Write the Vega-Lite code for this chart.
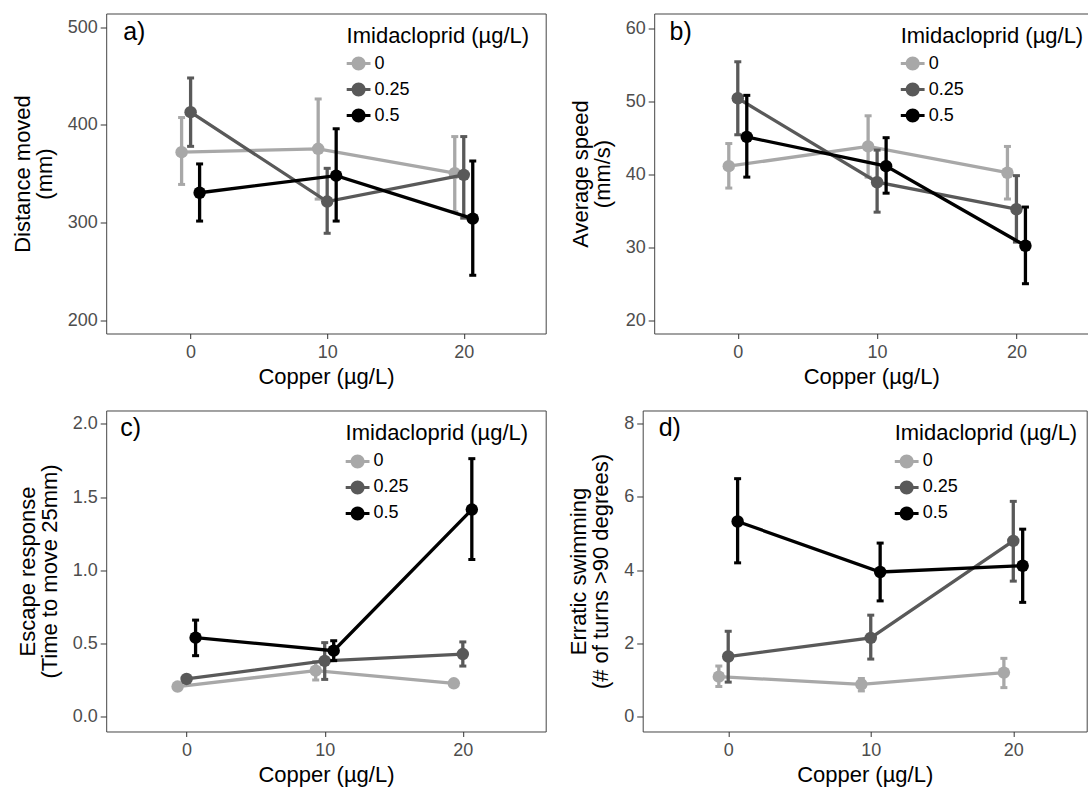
{
  "$schema": "https://vega.github.io/schema/vega-lite/v6.json",
  "padding": {"left": 10.2, "top": 12.5, "right": 0, "bottom": 0},
  "background": "white",
  "data": {"values": [
    {"panel": "a", "copper": 0, "imid": "0", "mean": 372, "lo": 339, "hi": 407.5},
    {"panel": "a", "copper": 10, "imid": "0", "mean": 375.5, "lo": 324, "hi": 426.5},
    {"panel": "a", "copper": 20, "imid": "0", "mean": 350.5, "lo": 311, "hi": 388},
    {"panel": "a", "copper": 0, "imid": "0.25", "mean": 413, "lo": 378, "hi": 448},
    {"panel": "a", "copper": 10, "imid": "0.25", "mean": 321.5, "lo": 289, "hi": 355.5},
    {"panel": "a", "copper": 20, "imid": "0.25", "mean": 348.8, "lo": 304.5, "hi": 388},
    {"panel": "a", "copper": 0, "imid": "0.5", "mean": 330.5, "lo": 301.5, "hi": 360},
    {"panel": "a", "copper": 10, "imid": "0.5", "mean": 348, "lo": 301.5, "hi": 396},
    {"panel": "a", "copper": 20, "imid": "0.5", "mean": 304, "lo": 246, "hi": 363},
    {"panel": "b", "copper": 0, "imid": "0", "mean": 41.1, "lo": 38.1, "hi": 44.2},
    {"panel": "b", "copper": 10, "imid": "0", "mean": 43.8, "lo": 39.6, "hi": 48.0},
    {"panel": "b", "copper": 20, "imid": "0", "mean": 40.2, "lo": 36.6, "hi": 43.8},
    {"panel": "b", "copper": 0, "imid": "0.25", "mean": 50.4, "lo": 45.4, "hi": 55.4},
    {"panel": "b", "copper": 10, "imid": "0.25", "mean": 38.9, "lo": 34.8, "hi": 43.3},
    {"panel": "b", "copper": 20, "imid": "0.25", "mean": 35.2, "lo": 30.7, "hi": 39.8},
    {"panel": "b", "copper": 0, "imid": "0.5", "mean": 45.1, "lo": 39.6, "hi": 50.8},
    {"panel": "b", "copper": 10, "imid": "0.5", "mean": 41.1, "lo": 37.4, "hi": 45.0},
    {"panel": "b", "copper": 20, "imid": "0.5", "mean": 30.2, "lo": 25.0, "hi": 35.5},
    {"panel": "c", "copper": 0, "imid": "0", "mean": 0.205, "lo": 0.185, "hi": 0.225},
    {"panel": "c", "copper": 10, "imid": "0", "mean": 0.314, "lo": 0.25, "hi": 0.375},
    {"panel": "c", "copper": 20, "imid": "0", "mean": 0.227, "lo": 0.21, "hi": 0.245},
    {"panel": "c", "copper": 0, "imid": "0.25", "mean": 0.257, "lo": 0.235, "hi": 0.28},
    {"panel": "c", "copper": 10, "imid": "0.25", "mean": 0.38, "lo": 0.254, "hi": 0.505},
    {"panel": "c", "copper": 20, "imid": "0.25", "mean": 0.427, "lo": 0.345, "hi": 0.51},
    {"panel": "c", "copper": 0, "imid": "0.5", "mean": 0.539, "lo": 0.416, "hi": 0.659},
    {"panel": "c", "copper": 10, "imid": "0.5", "mean": 0.45, "lo": 0.382, "hi": 0.518},
    {"panel": "c", "copper": 20, "imid": "0.5", "mean": 1.414, "lo": 1.073, "hi": 1.762},
    {"panel": "d", "copper": 0, "imid": "0", "mean": 1.09, "lo": 0.82, "hi": 1.38},
    {"panel": "d", "copper": 10, "imid": "0", "mean": 0.88, "lo": 0.70, "hi": 1.04},
    {"panel": "d", "copper": 20, "imid": "0", "mean": 1.2, "lo": 0.79, "hi": 1.59},
    {"panel": "d", "copper": 0, "imid": "0.25", "mean": 1.64, "lo": 0.94, "hi": 2.33},
    {"panel": "d", "copper": 10, "imid": "0.25", "mean": 2.15, "lo": 1.57, "hi": 2.77},
    {"panel": "d", "copper": 20, "imid": "0.25", "mean": 4.8, "lo": 3.70, "hi": 5.88},
    {"panel": "d", "copper": 0, "imid": "0.5", "mean": 5.33, "lo": 4.2, "hi": 6.5},
    {"panel": "d", "copper": 10, "imid": "0.5", "mean": 3.95, "lo": 3.16, "hi": 4.74},
    {"panel": "d", "copper": 20, "imid": "0.5", "mean": 4.12, "lo": 3.12, "hi": 5.12}
  ]},
  "align": "none",
  "spacing": 21,
  "resolve": {"legend": {"color": "independent"}},
  "vconcat": [
    {
      "spacing": 22,
      "resolve": {"legend": {"color": "independent"}},
      "hconcat": [
        {
          "width": 439.5, "height": 320,
          "title": {"text": "a)", "dx": 17},
          "transform": [{"filter": "datum.panel === 'a'"}],
          "encoding": {
            "x": {"field": "copper", "type": "quantitative", "scale": {"domain": [-6.18, 26], "nice": false, "zero": false}, "axis": {"values": [0, 10, 20], "title": "Copper (µg/L)"}},
            "color": {"field": "imid", "type": "nominal", "scale": {"domain": ["0", "0.25", "0.5"], "range": ["#A8A8A8", "#595959", "#000000"]},
              "legend": {"orient": "none", "legendX": 240.4, "legendY": 12, "title": "Imidacloprid (µg/L)", "symbolSize": 196, "symbolType": "M-1.7,-0.2H1.7V0.2H-1.7Z M1,0A1,1,0,1,1,-1,0A1,1,0,1,1,1,0Z",
                "encode": {"symbols": {"update": {"fill": {"scale": "color", "field": "value"}, "stroke": {"value": "transparent"}, "opacity": {"value": 1}}}}}}
          },
          "layer": [
            {"transform": [{"filter": "datum.imid === '0'"}], "layer": [
              {"mark": {"type": "rule", "strokeWidth": 3.3, "xOffset": -9}, "encoding": {"y": {"field": "lo", "type": "quantitative", "scale": {"domain": [186.4, 514], "nice": false, "zero": false}, "axis": {"values": [200, 300, 400, 500], "title": ["Distance moved", "(mm)"]}}, "y2": {"field": "hi"}}},
              {"mark": {"type": "tick", "orient": "horizontal", "size": 7, "thickness": 3, "opacity": 1, "xOffset": -9}, "encoding": {"y": {"field": "lo", "type": "quantitative"}}},
              {"mark": {"type": "tick", "orient": "horizontal", "size": 7, "thickness": 3, "opacity": 1, "xOffset": -9}, "encoding": {"y": {"field": "hi", "type": "quantitative"}}},
              {"mark": {"type": "line", "strokeWidth": 3.3, "xOffset": -9}, "encoding": {"y": {"field": "mean", "type": "quantitative"}}},
              {"mark": {"type": "point", "filled": true, "size": 155, "opacity": 1, "xOffset": -9}, "encoding": {"y": {"field": "mean", "type": "quantitative"}}}
            ]},
            {"transform": [{"filter": "datum.imid === '0.25'"}], "layer": [
              {"mark": {"type": "rule", "strokeWidth": 3.3}, "encoding": {"y": {"field": "lo", "type": "quantitative"}, "y2": {"field": "hi"}}},
              {"mark": {"type": "tick", "orient": "horizontal", "size": 7, "thickness": 3, "opacity": 1}, "encoding": {"y": {"field": "lo", "type": "quantitative"}}},
              {"mark": {"type": "tick", "orient": "horizontal", "size": 7, "thickness": 3, "opacity": 1}, "encoding": {"y": {"field": "hi", "type": "quantitative"}}},
              {"mark": {"type": "line", "strokeWidth": 3.3}, "encoding": {"y": {"field": "mean", "type": "quantitative"}}},
              {"mark": {"type": "point", "filled": true, "size": 155, "opacity": 1}, "encoding": {"y": {"field": "mean", "type": "quantitative"}}}
            ]},
            {"transform": [{"filter": "datum.imid === '0.5'"}], "layer": [
              {"mark": {"type": "rule", "strokeWidth": 3.3, "xOffset": 9}, "encoding": {"y": {"field": "lo", "type": "quantitative"}, "y2": {"field": "hi"}}},
              {"mark": {"type": "tick", "orient": "horizontal", "size": 7, "thickness": 3, "opacity": 1, "xOffset": 9}, "encoding": {"y": {"field": "lo", "type": "quantitative"}}},
              {"mark": {"type": "tick", "orient": "horizontal", "size": 7, "thickness": 3, "opacity": 1, "xOffset": 9}, "encoding": {"y": {"field": "hi", "type": "quantitative"}}},
              {"mark": {"type": "line", "strokeWidth": 3.3, "xOffset": 9}, "encoding": {"y": {"field": "mean", "type": "quantitative"}}},
              {"mark": {"type": "point", "filled": true, "size": 155, "opacity": 1, "xOffset": 9}, "encoding": {"y": {"field": "mean", "type": "quantitative"}}}
            ]}
          ]
        },
        {
          "width": 434, "height": 320,
          "title": {"text": "b)", "dx": 15.4},
          "transform": [{"filter": "datum.panel === 'b'"}],
          "encoding": {
            "x": {"field": "copper", "type": "quantitative", "scale": {"domain": [-6, 25.15], "nice": false, "zero": false}, "axis": {"values": [0, 10, 20], "title": "Copper (µg/L)"}},
            "color": {"field": "imid", "type": "nominal", "scale": {"domain": ["0", "0.25", "0.5"], "range": ["#A8A8A8", "#595959", "#000000"]},
              "legend": {"orient": "none", "legendX": 246.5, "legendY": 12, "title": "Imidacloprid (µg/L)", "symbolSize": 196, "symbolType": "M-1.7,-0.2H1.7V0.2H-1.7Z M1,0A1,1,0,1,1,-1,0A1,1,0,1,1,1,0Z",
                "encode": {"symbols": {"update": {"fill": {"scale": "color", "field": "value"}, "stroke": {"value": "transparent"}, "opacity": {"value": 1}}}}}}
          },
          "layer": [
            {"transform": [{"filter": "datum.imid === '0'"}], "layer": [
              {"mark": {"type": "rule", "strokeWidth": 3.3, "xOffset": -9}, "encoding": {"y": {"field": "lo", "type": "quantitative", "scale": {"domain": [18.18, 62.01], "nice": false, "zero": false}, "axis": {"values": [20, 30, 40, 50, 60], "title": ["Average speed", "(mm/s)"]}}, "y2": {"field": "hi"}}},
              {"mark": {"type": "tick", "orient": "horizontal", "size": 7, "thickness": 3, "opacity": 1, "xOffset": -9}, "encoding": {"y": {"field": "lo", "type": "quantitative"}}},
              {"mark": {"type": "tick", "orient": "horizontal", "size": 7, "thickness": 3, "opacity": 1, "xOffset": -9}, "encoding": {"y": {"field": "hi", "type": "quantitative"}}},
              {"mark": {"type": "line", "strokeWidth": 3.3, "xOffset": -9}, "encoding": {"y": {"field": "mean", "type": "quantitative"}}},
              {"mark": {"type": "point", "filled": true, "size": 155, "opacity": 1, "xOffset": -9}, "encoding": {"y": {"field": "mean", "type": "quantitative"}}}
            ]},
            {"transform": [{"filter": "datum.imid === '0.25'"}], "layer": [
              {"mark": {"type": "rule", "strokeWidth": 3.3}, "encoding": {"y": {"field": "lo", "type": "quantitative"}, "y2": {"field": "hi"}}},
              {"mark": {"type": "tick", "orient": "horizontal", "size": 7, "thickness": 3, "opacity": 1}, "encoding": {"y": {"field": "lo", "type": "quantitative"}}},
              {"mark": {"type": "tick", "orient": "horizontal", "size": 7, "thickness": 3, "opacity": 1}, "encoding": {"y": {"field": "hi", "type": "quantitative"}}},
              {"mark": {"type": "line", "strokeWidth": 3.3}, "encoding": {"y": {"field": "mean", "type": "quantitative"}}},
              {"mark": {"type": "point", "filled": true, "size": 155, "opacity": 1}, "encoding": {"y": {"field": "mean", "type": "quantitative"}}}
            ]},
            {"transform": [{"filter": "datum.imid === '0.5'"}], "layer": [
              {"mark": {"type": "rule", "strokeWidth": 3.3, "xOffset": 9}, "encoding": {"y": {"field": "lo", "type": "quantitative"}, "y2": {"field": "hi"}}},
              {"mark": {"type": "tick", "orient": "horizontal", "size": 7, "thickness": 3, "opacity": 1, "xOffset": 9}, "encoding": {"y": {"field": "lo", "type": "quantitative"}}},
              {"mark": {"type": "tick", "orient": "horizontal", "size": 7, "thickness": 3, "opacity": 1, "xOffset": 9}, "encoding": {"y": {"field": "hi", "type": "quantitative"}}},
              {"mark": {"type": "line", "strokeWidth": 3.3, "xOffset": 9}, "encoding": {"y": {"field": "mean", "type": "quantitative"}}},
              {"mark": {"type": "point", "filled": true, "size": 155, "opacity": 1, "xOffset": 9}, "encoding": {"y": {"field": "mean", "type": "quantitative"}}}
            ]}
          ]
        }
      ]
    },
    {
      "spacing": 20.5,
      "resolve": {"legend": {"color": "independent"}},
      "hconcat": [
        {
          "width": 439.5, "height": 321,
          "title": {"text": "c)", "dx": 14},
          "transform": [{"filter": "datum.panel === 'c'"}],
          "encoding": {
            "x": {"field": "copper", "type": "quantitative", "scale": {"domain": [-5.82, 26], "nice": false, "zero": false}, "axis": {"values": [0, 10, 20], "title": "Copper (µg/L)"}},
            "color": {"field": "imid", "type": "nominal", "scale": {"domain": ["0", "0.25", "0.5"], "range": ["#A8A8A8", "#595959", "#000000"]},
              "legend": {"orient": "none", "legendX": 239.4, "legendY": 13, "title": "Imidacloprid (µg/L)", "symbolSize": 196, "symbolType": "M-1.7,-0.2H1.7V0.2H-1.7Z M1,0A1,1,0,1,1,-1,0A1,1,0,1,1,1,0Z",
                "encode": {"symbols": {"update": {"fill": {"scale": "color", "field": "value"}, "stroke": {"value": "transparent"}, "opacity": {"value": 1}}}}}}
          },
          "layer": [
            {"transform": [{"filter": "datum.imid === '0'"}], "layer": [
              {"mark": {"type": "rule", "strokeWidth": 3.3, "xOffset": -9}, "encoding": {"y": {"field": "lo", "type": "quantitative", "scale": {"domain": [-0.102, 2.091], "nice": false, "zero": false}, "axis": {"values": [0, 0.5, 1, 1.5, 2], "format": ".1f", "title": ["Escape response", "(Time to move 25mm)"]}}, "y2": {"field": "hi"}}},
              {"mark": {"type": "tick", "orient": "horizontal", "size": 7, "thickness": 3, "opacity": 1, "xOffset": -9}, "encoding": {"y": {"field": "lo", "type": "quantitative"}}},
              {"mark": {"type": "tick", "orient": "horizontal", "size": 7, "thickness": 3, "opacity": 1, "xOffset": -9}, "encoding": {"y": {"field": "hi", "type": "quantitative"}}},
              {"mark": {"type": "line", "strokeWidth": 3.3, "xOffset": -9}, "encoding": {"y": {"field": "mean", "type": "quantitative"}}},
              {"mark": {"type": "point", "filled": true, "size": 155, "opacity": 1, "xOffset": -9}, "encoding": {"y": {"field": "mean", "type": "quantitative"}}}
            ]},
            {"transform": [{"filter": "datum.imid === '0.25'"}], "layer": [
              {"mark": {"type": "rule", "strokeWidth": 3.3}, "encoding": {"y": {"field": "lo", "type": "quantitative"}, "y2": {"field": "hi"}}},
              {"mark": {"type": "tick", "orient": "horizontal", "size": 7, "thickness": 3, "opacity": 1}, "encoding": {"y": {"field": "lo", "type": "quantitative"}}},
              {"mark": {"type": "tick", "orient": "horizontal", "size": 7, "thickness": 3, "opacity": 1}, "encoding": {"y": {"field": "hi", "type": "quantitative"}}},
              {"mark": {"type": "line", "strokeWidth": 3.3}, "encoding": {"y": {"field": "mean", "type": "quantitative"}}},
              {"mark": {"type": "point", "filled": true, "size": 155, "opacity": 1}, "encoding": {"y": {"field": "mean", "type": "quantitative"}}}
            ]},
            {"transform": [{"filter": "datum.imid === '0.5'"}], "layer": [
              {"mark": {"type": "rule", "strokeWidth": 3.3, "xOffset": 9}, "encoding": {"y": {"field": "lo", "type": "quantitative"}, "y2": {"field": "hi"}}},
              {"mark": {"type": "tick", "orient": "horizontal", "size": 7, "thickness": 3, "opacity": 1, "xOffset": 9}, "encoding": {"y": {"field": "lo", "type": "quantitative"}}},
              {"mark": {"type": "tick", "orient": "horizontal", "size": 7, "thickness": 3, "opacity": 1, "xOffset": 9}, "encoding": {"y": {"field": "hi", "type": "quantitative"}}},
              {"mark": {"type": "line", "strokeWidth": 3.3, "xOffset": 9}, "encoding": {"y": {"field": "mean", "type": "quantitative"}}},
              {"mark": {"type": "point", "filled": true, "size": 155, "opacity": 1, "xOffset": 9}, "encoding": {"y": {"field": "mean", "type": "quantitative"}}}
            ]}
          ]
        },
        {
          "width": 444, "height": 321,
          "title": {"text": "d)", "dx": 16},
          "transform": [{"filter": "datum.panel === 'd'"}],
          "encoding": {
            "x": {"field": "copper", "type": "quantitative", "scale": {"domain": [-6, 25.15], "nice": false, "zero": false}, "axis": {"values": [0, 10, 20], "title": "Copper (µg/L)"}},
            "color": {"field": "imid", "type": "nominal", "scale": {"domain": ["0", "0.25", "0.5"], "range": ["#A8A8A8", "#595959", "#000000"]},
              "legend": {"orient": "none", "legendX": 252, "legendY": 13, "title": "Imidacloprid (µg/L)", "symbolSize": 196, "symbolType": "M-1.7,-0.2H1.7V0.2H-1.7Z M1,0A1,1,0,1,1,-1,0A1,1,0,1,1,1,0Z",
                "encode": {"symbols": {"update": {"fill": {"scale": "color", "field": "value"}, "stroke": {"value": "transparent"}, "opacity": {"value": 1}}}}}}
          },
          "layer": [
            {"transform": [{"filter": "datum.imid === '0'"}], "layer": [
              {"mark": {"type": "rule", "strokeWidth": 3.3, "xOffset": -9.4}, "encoding": {"y": {"field": "lo", "type": "quantitative", "scale": {"domain": [-0.409, 8.363], "nice": false, "zero": false}, "axis": {"values": [0, 2, 4, 6, 8], "title": ["Erratic swimming", "(# of turns >90 degrees)"]}}, "y2": {"field": "hi"}}},
              {"mark": {"type": "tick", "orient": "horizontal", "size": 7, "thickness": 3, "opacity": 1, "xOffset": -9.4}, "encoding": {"y": {"field": "lo", "type": "quantitative"}}},
              {"mark": {"type": "tick", "orient": "horizontal", "size": 7, "thickness": 3, "opacity": 1, "xOffset": -9.4}, "encoding": {"y": {"field": "hi", "type": "quantitative"}}},
              {"mark": {"type": "line", "strokeWidth": 3.3, "xOffset": -9.4}, "encoding": {"y": {"field": "mean", "type": "quantitative"}}},
              {"mark": {"type": "point", "filled": true, "size": 155, "opacity": 1, "xOffset": -9.4}, "encoding": {"y": {"field": "mean", "type": "quantitative"}}}
            ]},
            {"transform": [{"filter": "datum.imid === '0.25'"}], "layer": [
              {"mark": {"type": "rule", "strokeWidth": 3.3}, "encoding": {"y": {"field": "lo", "type": "quantitative"}, "y2": {"field": "hi"}}},
              {"mark": {"type": "tick", "orient": "horizontal", "size": 7, "thickness": 3, "opacity": 1}, "encoding": {"y": {"field": "lo", "type": "quantitative"}}},
              {"mark": {"type": "tick", "orient": "horizontal", "size": 7, "thickness": 3, "opacity": 1}, "encoding": {"y": {"field": "hi", "type": "quantitative"}}},
              {"mark": {"type": "line", "strokeWidth": 3.3}, "encoding": {"y": {"field": "mean", "type": "quantitative"}}},
              {"mark": {"type": "point", "filled": true, "size": 155, "opacity": 1}, "encoding": {"y": {"field": "mean", "type": "quantitative"}}}
            ]},
            {"transform": [{"filter": "datum.imid === '0.5'"}], "layer": [
              {"mark": {"type": "rule", "strokeWidth": 3.3, "xOffset": 9.4}, "encoding": {"y": {"field": "lo", "type": "quantitative"}, "y2": {"field": "hi"}}},
              {"mark": {"type": "tick", "orient": "horizontal", "size": 7, "thickness": 3, "opacity": 1, "xOffset": 9.4}, "encoding": {"y": {"field": "lo", "type": "quantitative"}}},
              {"mark": {"type": "tick", "orient": "horizontal", "size": 7, "thickness": 3, "opacity": 1, "xOffset": 9.4}, "encoding": {"y": {"field": "hi", "type": "quantitative"}}},
              {"mark": {"type": "line", "strokeWidth": 3.3, "xOffset": 9.4}, "encoding": {"y": {"field": "mean", "type": "quantitative"}}},
              {"mark": {"type": "point", "filled": true, "size": 155, "opacity": 1, "xOffset": 9.4}, "encoding": {"y": {"field": "mean", "type": "quantitative"}}}
            ]}
          ]
        }
      ]
    }
  ],
  "config": {
    "font": "Liberation Sans",
    "view": {"stroke": "#444444", "strokeWidth": 1},
    "axis": {"grid": false, "domain": false, "tickColor": "#333333", "tickWidth": 1, "labelFontSize": 18, "labelColor": "#4D4D4D", "titleFontSize": 22, "titleFontWeight": "normal", "titleColor": "#000000", "titleLineHeight": 22},
    "axisY": {"tickSize": 6, "labelPadding": 3, "titlePadding": 11},
    "axisX": {"tickSize": 5, "labelPadding": 5, "titlePadding": 5},
    "legend": {"padding": 0, "titleFontSize": 22, "titleFontWeight": "normal", "titleColor": "#000000", "titleLimit": 400, "labelFontSize": 18, "labelColor": "#000000", "symbolStrokeWidth": 0, "symbolOffset": 3, "labelOffset": 7, "rowPadding": 8, "titlePadding": 7, "symbolSize": 196},
    "title": {"fontSize": 25, "fontWeight": "normal", "color": "#000000", "anchor": "start", "frame": "group", "baseline": "middle", "offset": -31, "dx": 15}
  }
}
